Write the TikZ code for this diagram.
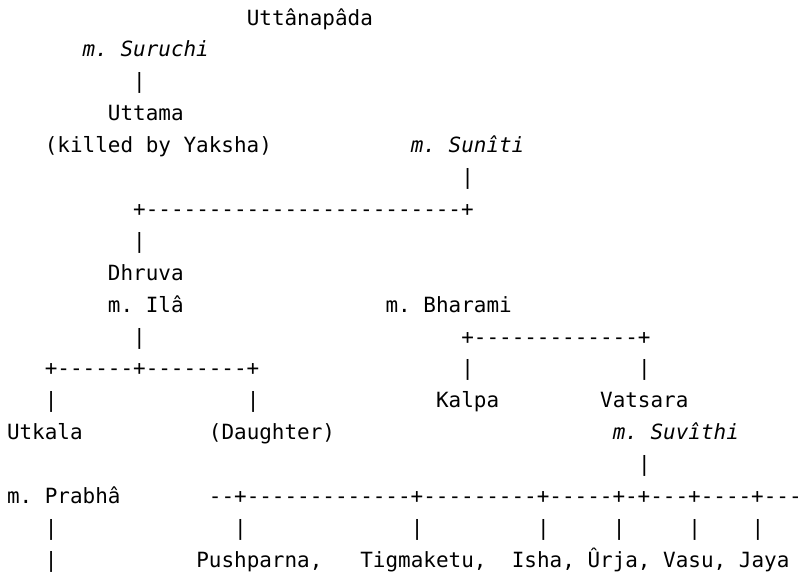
\documentclass[tikz,border=0pt]{standalone}
\usepackage{fontspec}
\setmonofont{DejaVu Sans Mono}
\begin{document}
\begin{tikzpicture}[x=12.62pt, y=-31.9pt,
  txt/.style={anchor=base west, inner sep=0pt, outer sep=0pt,
    font=\ttfamily\fontsize{20.95}{32}\selectfont, text=black},
  spouse/.style={txt, font=\ttfamily\itshape\fontsize{20.95}{32}\selectfont},
  link/.style={txt}]
\useasboundingbox (-7pt,25pt) rectangle (793pt,-546pt);
% line 0
\node[txt] (uttanapada) at (19,0) {Uttânapâda};
% line 1
\node[spouse] (suruchi) at (6,1) {m. Suruchi};
% line 2
\node[link] (l2) at (10,2) {|};
% line 3
\node[txt] (uttama) at (8,3) {Uttama};
% line 4
\node[txt] (killed) at (3,4) {(killed by Yaksha)};
\node[spouse] (suniti) at (32,4) {m. Sunîti};
% line 5
\node[link] (l5) at (36,5) {|};
% line 6
\node[link] (l6) at (10,6) {+-------------------------+};
% line 7
\node[link] (l7) at (10,7) {|};
% line 8
\node[txt] (dhruva) at (8,8) {Dhruva};
% line 9
\node[txt] (ila) at (8,9) {m. Ilâ};
\node[txt] (bharami) at (30,9) {m. Bharami};
% line 10
\node[link] (l10a) at (10,10) {|};
\node[link] (l10b) at (36,10) {+-------------+};
% line 11
\node[link] (l11a) at (3,11) {+------+--------+};
\node[link] (l11b) at (36,11) {|};
\node[link] (l11c) at (50,11) {|};
% line 12
\node[link] (l12a) at (3,12) {|};
\node[link] (l12b) at (19,12) {|};
\node[txt] (kalpa) at (34,12) {Kalpa};
\node[txt] (vatsara) at (47,12) {Vatsara};
% line 13
\node[txt] (utkala) at (0,13) {Utkala};
\node[txt] (daughter) at (16,13) {(Daughter)};
\node[spouse] (suvithi) at (48,13) {m. Suvîthi};
% line 14
\node[link] (l14) at (50,14) {|};
% line 15
\node[txt] (prabha) at (0,15) {m. Prabhâ};
\node[link] (l15) at (16,15) {--+-------------+---------+-----+-+---+----+---};
% line 16
\foreach \c/\n in {3/a,18/b,32/c,42/d,48/e,54/f,59/g}
  \node[link] (l16\n) at (\c,16) {|};
% line 17
\node[link] (l17) at (3,17) {|};
\node[txt] (pushparna) at (15,17) {Pushparna,};
\node[txt] (tigmaketu) at (28,17) {Tigmaketu,};
\node[txt] (isha) at (40,17) {Isha,};
\node[txt] (urja) at (46,17) {Ûrja,};
\node[txt] (vasu) at (52,17) {Vasu,};
\node[txt] (jaya) at (58,17) {Jaya};
\end{tikzpicture}
\end{document}
